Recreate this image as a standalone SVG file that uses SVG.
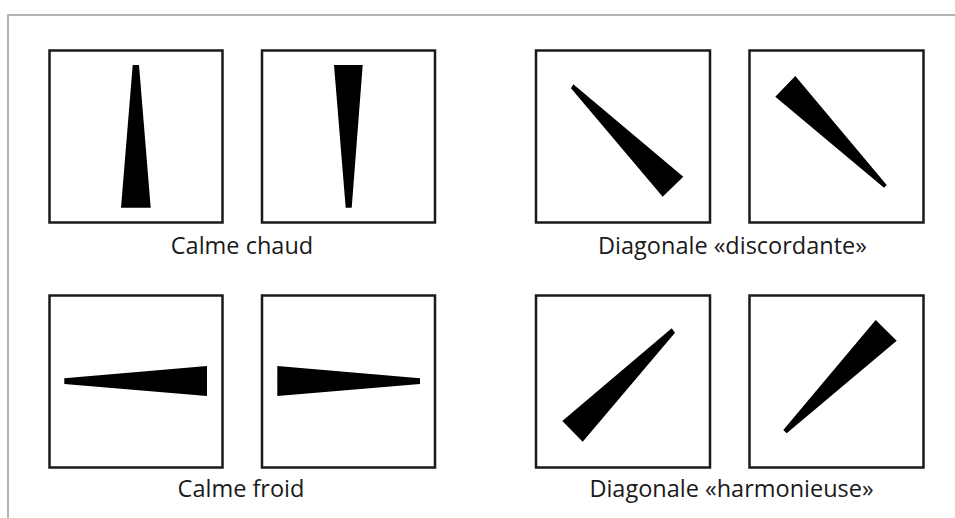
<svg xmlns="http://www.w3.org/2000/svg" width="955" height="518" viewBox="0 0 955 518">
<style>
.frame{fill:none;stroke:#b3b3b3;stroke-width:2}
.box{fill:#fff;stroke:#1a1a1a;stroke-width:2.5}
.wedge{fill:#000}
.lbl{font-family:"Open Sans","Liberation Sans",sans-serif;font-size:23.5px;fill:#1a1a1a;text-anchor:middle}
</style>
<rect width="955" height="518" fill="#fff"/>
<path class="frame" d="M8,518 V15 H955"/>
<g id="calme-chaud-1">
<rect class="box" x="49.5" y="50.5" width="173" height="172"/>
<polygon class="wedge" points="132.7,65 139,65 150.7,207.7 121,207.7"/>
</g>
<g id="calme-chaud-2">
<rect class="box" x="262" y="50.5" width="173" height="172"/>
<polygon class="wedge" points="334,65 362.7,65 351.7,207.7 345.7,207.7"/>
</g>
<g id="diag-disc-1">
<rect class="box" x="536" y="50.5" width="174" height="172"/>
<polygon class="wedge" points="573.3,84.3 683.3,176.7 662.7,196.7 571,88.3"/>
</g>
<g id="diag-disc-2">
<rect class="box" x="749.5" y="50.5" width="174" height="172"/>
<polygon class="wedge" points="795.3,76 886.7,185 884,187.7 775.3,96.7"/>
</g>
<g id="calme-froid-1">
<rect class="box" x="49.5" y="295.5" width="173" height="172"/>
<polygon class="wedge" points="64.3,378.3 207,366 207,396 64.3,384"/>
</g>
<g id="calme-froid-2">
<rect class="box" x="262" y="295.5" width="173" height="172"/>
<polygon class="wedge" points="277.3,366 420,378.3 420,384 277.3,396"/>
</g>
<g id="diag-harm-1">
<rect class="box" x="536" y="295.5" width="174" height="172"/>
<polygon class="wedge" points="671.7,328.3 675,332.7 582.7,441.7 562.3,421"/>
</g>
<g id="diag-harm-2">
<rect class="box" x="749.5" y="295.5" width="174" height="172"/>
<polygon class="wedge" points="875.7,320 896.7,340.7 786.7,433.3 783.3,430"/>
</g>
<g id="labels">
<text class="lbl" x="242" y="254">Calme chaud</text>
<text class="lbl" x="732.5" y="254">Diagonale «discordante»</text>
<text class="lbl" x="241" y="497">Calme froid</text>
<text class="lbl" x="731.5" y="497">Diagonale «harmonieuse»</text>
</g>
<g id="connectors"/>
</svg>
